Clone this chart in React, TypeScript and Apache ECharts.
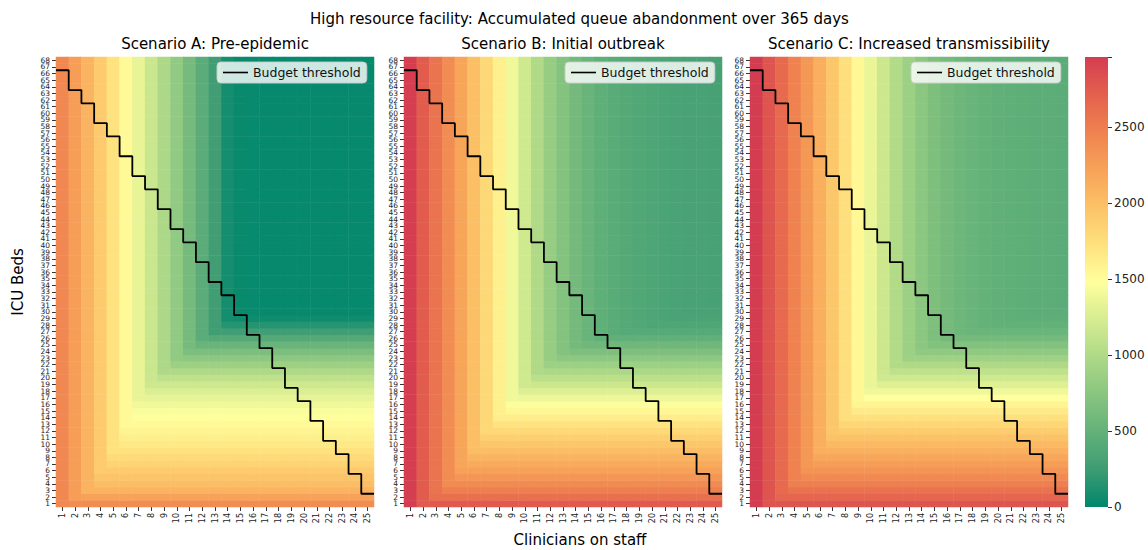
import React, { useEffect, useRef } from "react";
import * as echarts from "echarts";

// ---------- data ----------
const clinicians = Array.from({ length: 25 }, (_, i) => String(i + 1));
const beds = Array.from({ length: 68 }, (_, i) => String(i + 1));

const scenarioTitles = [
  "Scenario A: Pre-epidemic",
  "Scenario B: Initial outbreak",
  "Scenario C: Increased transmissibility",
];

// abandonment read along the top row (by clinicians, 1..25)
const clinicianProfileA = [2420, 2260, 2080, 1900, 1720, 1530, 1340, 1160, 980, 800, 620, 440, 270, 80, 40, 30, 25, 22, 20, 18, 16, 15, 14, 13, 12];
const clinicianProfileB = [2950, 2740, 2570, 2390, 2200, 2000, 1800, 1600, 1390, 1190, 1000, 840, 710, 610, 530, 470, 430, 400, 375, 355, 340, 330, 320, 315, 310];
const clinicianProfileC = [2960, 2800, 2640, 2470, 2300, 2120, 1930, 1740, 1540, 1350, 1170, 1010, 870, 760, 670, 610, 565, 530, 505, 485, 470, 460, 450, 445, 440];

// abandonment read along the right column (by ICU beds, 1..68)
const bedProfileA = [2390, 2220, 2090, 2010, 1960, 1900, 1840, 1780, 1720, 1660, 1610, 1570, 1530, 1490, 1450, 1395, 1330, 1260, 1180, 1090, 990, 880, 770, 650, 530, 400, 270, 150, 60,
  25, 25, 25, 25, 25, 25, 25, 25, 25, 25, 25, 25, 25, 25, 25, 25, 25, 25, 25, 25, 25, 25, 25, 25, 25, 25, 25, 25, 25, 25, 25, 25, 25, 25, 25, 25, 25, 25, 25, 25];
const bedProfileB = [2760, 2600, 2490, 2400, 2310, 2230, 2150, 2080, 2010, 1940, 1870, 1790, 1710, 1630, 1550, 1460, 1370, 1270, 1170, 1070, 970, 870, 770, 670, 570, 480, 410, 360, 330,
  315, 310, 310, 310, 310, 310, 310, 310, 310, 310, 310, 310, 310, 310, 310, 310, 310, 310, 310, 310, 310, 310, 310, 310, 310, 310, 310, 310, 310, 310, 310, 310, 310, 310, 310, 310, 310, 310, 310, 310];
const bedProfileC = [2800, 2680, 2580, 2490, 2410, 2330, 2250, 2180, 2110, 2040, 1970, 1890, 1810, 1730, 1650, 1570, 1480, 1390, 1290, 1190, 1090, 990, 890, 790, 700, 610, 540, 490, 460,
  445, 440, 440, 440, 440, 440, 440, 440, 440, 440, 440, 440, 440, 440, 440, 440, 440, 440, 440, 440, 440, 440, 440, 440, 440, 440, 440, 440, 440, 440, 440, 440, 440, 440, 440, 440, 440, 440, 440, 440];

// maximum affordable ICU beds for each clinician count (budget threshold)
const budgetBeds = [66, 63, 61, 58, 56, 53, 50, 48, 45, 42, 40, 37, 34, 32, 29, 26, 24, 21, 18, 16, 13, 10, 8, 5, 2];

const colorbarTicks = [0, 500, 1000, 1500, 2000, 2500];
const VMAX = 2960;
const PALETTE = ["#00876c", "#3d9c73", "#63b179", "#88c580", "#aed987", "#d6ec91", "#ffff9d", "#fee17e", "#fcc267", "#f7a258", "#ef8250", "#e4604e", "#d43d51"];

// ---------- layout ----------
const FONT = "DejaVu Sans";
const PANEL_LEFT = [56, 404, 750];
const PANEL_W = 318;
const PANEL_TOP = 57;
const PANEL_H = 450;

function buildCells(colP: number[], rowP: number[]) {
  const out: number[][] = [];
  for (let y = 0; y < beds.length; y++) {
    for (let x = 0; x < clinicians.length; x++) {
      out.push([x, y, Math.max(colP[x], rowP[y])]);
    }
  }
  return out;
}

function buildBudgetLine() {
  const pts: number[][] = [];
  budgetBeds.forEach((b, i) => {
    const c = i + 1;
    pts.push([c - 0.5, b + 0.5]);
    pts.push([c + 0.5, b + 0.5]);
  });
  return pts;
}

export default function App() {
  const ref = useRef<HTMLDivElement>(null);
  useEffect(() => {
    if (!ref.current) return;
    const chart = echarts.init(ref.current, null, { renderer: "svg" });
    const profiles = [
      [clinicianProfileA, bedProfileA],
      [clinicianProfileB, bedProfileB],
      [clinicianProfileC, bedProfileC],
    ];
    const grids: any[] = [];
    const xAxes: any[] = [];
    const yAxes: any[] = [];
    const series: any[] = [];
    const legends: any[] = [];
    const line = buildBudgetLine();

    PANEL_LEFT.forEach((left, k) => {
      grids.push({ left, top: PANEL_TOP, width: PANEL_W, height: PANEL_H, containLabel: false });
      xAxes.push({
        type: "category", gridIndex: k, data: clinicians,
        axisLine: { show: false },
        axisTick: { show: true, length: 4, alignWithLabel: true, lineStyle: { color: "#000", width: 0.8 } },
        axisLabel: { interval: 0, rotate: 90, fontSize: 8, color: "#222", margin: 6, fontFamily: FONT },
        splitLine: { show: false },
      });
      xAxes.push({ type: "value", gridIndex: k, min: 0.5, max: 25.5, show: false });
      yAxes.push({
        type: "category", gridIndex: k, data: beds,
        axisLine: { show: false },
        axisTick: { show: true, length: 4, alignWithLabel: true, lineStyle: { color: "#000", width: 0.8 } },
        axisLabel: { interval: 0, fontSize: 7.5, color: "#222", margin: 6, fontFamily: FONT },
        splitLine: { show: false },
      });
      yAxes.push({ type: "value", gridIndex: k, min: 0.5, max: 68.5, show: false });

      series.push({
        type: "heatmap",
        xAxisIndex: 2 * k,
        yAxisIndex: 2 * k,
        data: buildCells(profiles[k][0], profiles[k][1]),
        progressive: 0,
        emphasis: { disabled: true },
        itemStyle: { borderWidth: 0 },
      });
      series.push({
        type: "line",
        name: "Budget threshold",
        xAxisIndex: 2 * k + 1,
        yAxisIndex: 2 * k + 1,
        data: line,
        symbol: "none",
        color: "#000",
        lineStyle: { color: "#000", width: 1.8 },
        itemStyle: { color: "#000" },
        z: 5,
        silent: true,
      });
      legends.push({
        data: ["Budget threshold"],
        left: left + 161,
        top: 62,
        orient: "horizontal",
        icon: "rect",
        itemWidth: 25,
        itemHeight: 1.6,
        itemGap: 6,
        padding: [4, 6, 4, 6],
        backgroundColor: "rgba(255,255,255,0.8)",
        borderColor: "rgba(204,204,204,0.9)",
        borderWidth: 1,
        borderRadius: 4,
        selectedMode: false,
        textStyle: { fontSize: 12.5, color: "#111", fontFamily: FONT },
      });
    });

    // colorbar grid
    grids.push({ left: 1085, top: PANEL_TOP, width: 23, height: PANEL_H });
    xAxes.push({ type: "category", gridIndex: 3, data: [""], show: false });
    yAxes.push({
      type: "value", gridIndex: 3, position: "right", min: 0, max: VMAX, interval: 500,
      axisLine: { show: false },
      axisTick: { show: true, length: 4, lineStyle: { color: "#000", width: 0.8 } },
      axisLabel: {
        fontSize: 12, color: "#222", margin: 6, fontFamily: FONT,
        formatter: (v: number) => (colorbarTicks.includes(v) ? String(v) : ""),
      },
      splitLine: { show: false },
    });
    series.push({
      type: "bar",
      xAxisIndex: 6,
      yAxisIndex: 6,
      data: [VMAX],
      barWidth: "100%",
      silent: true,
      itemStyle: {
        color: new echarts.graphic.LinearGradient(0, 1, 0, 0,
          PALETTE.map((c, i) => ({ offset: i / (PALETTE.length - 1), color: c }))),
      },
    });

    const graphics: any[] = [
      {
        type: "text", x: 579.5, y: 19,
        style: { text: "High resource facility: Accumulated queue abandonment over 365 days", font: `15px "${FONT}"`, fill: "#000", align: "center", verticalAlign: "middle", textAlign: "center", textVerticalAlign: "middle" },
      },
      {
        type: "text", x: 580, y: 540,
        style: { text: "Clinicians on staff", font: `15px "${FONT}"`, fill: "#000", align: "center", verticalAlign: "middle", textAlign: "center", textVerticalAlign: "middle" },
      },
      {
        type: "text", x: 18, y: 282, rotation: Math.PI / 2,
        style: { text: "ICU Beds", font: `15px "${FONT}"`, fill: "#000", align: "center", verticalAlign: "middle", textAlign: "center", textVerticalAlign: "middle" },
      },
    ];
    PANEL_LEFT.forEach((left, k) => {
      graphics.push({
        type: "text", x: left + PANEL_W / 2, y: 44,
        style: { text: scenarioTitles[k], font: `15px "${FONT}"`, fill: "#000", align: "center", verticalAlign: "middle", textAlign: "center", textVerticalAlign: "middle" },
      });
    });

    chart.setOption({
      animation: false,
      textStyle: { fontFamily: FONT },
      grid: grids,
      xAxis: xAxes,
      yAxis: yAxes,
      legend: legends,
      visualMap: {
        show: false,
        type: "continuous",
        min: 0,
        max: VMAX,
        seriesIndex: [0, 2, 4],
        inRange: { color: PALETTE },
      },
      series,
      graphic: graphics,
    });
    return () => chart.dispose();
  }, []);
  return <div ref={ref} style={{ position: "absolute", left: 0, top: 0, width: 1148, height: 550 }} />;
}
